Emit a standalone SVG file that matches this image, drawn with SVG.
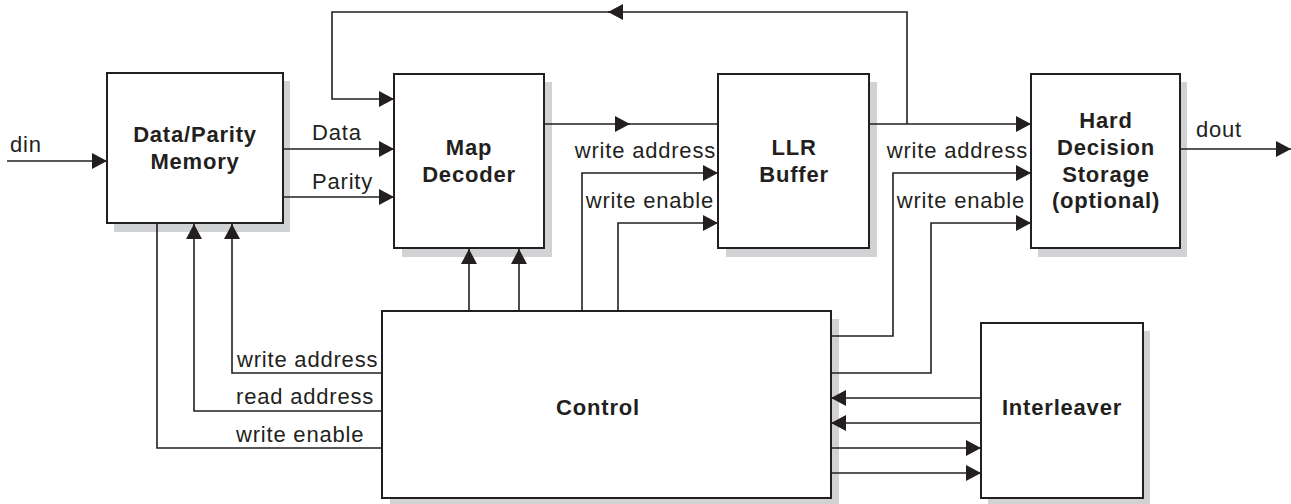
<svg xmlns="http://www.w3.org/2000/svg" width="1291" height="504" viewBox="0 0 1291 504">
<style>
.box{fill:#fff;stroke:#231f20;stroke-width:2}
.sh{fill:#d1d2d4}
.c{fill:none;stroke:#231f20;stroke-width:1.6}
text{font-family:"Liberation Sans",Arial,sans-serif;font-size:22px;fill:#231f20;letter-spacing:0.8px}
.b{font-weight:bold;text-anchor:middle}
.e{text-anchor:end}
</style>
<defs>
<marker id="a" markerWidth="15" markerHeight="16" refX="15" refY="8" orient="auto" markerUnits="userSpaceOnUse"><path d="M0,0 L15,8 L0,16 z" fill="#231f20"/></marker>
</defs>
<rect width="1291" height="504" fill="#fff"/>
<g id="dpm">
<rect class="sh" x="114" y="81" width="176" height="151"/>
<rect class="box" x="107" y="73" width="176" height="150"/>
<text class="b" x="195" y="142">Data/Parity</text>
<text class="b" x="195" y="169">Memory</text>
</g>
<g id="map">
<rect class="sh" x="402" y="82" width="150" height="175"/>
<rect class="box" x="394" y="74" width="150" height="174"/>
<text class="b" x="469" y="155">Map</text>
<text class="b" x="469" y="182">Decoder</text>
</g>
<g id="llr">
<rect class="sh" x="726" y="82" width="151" height="175"/>
<rect class="box" x="718" y="74" width="151" height="174"/>
<text class="b" x="794" y="155">LLR</text>
<text class="b" x="794" y="182">Buffer</text>
</g>
<g id="hds">
<rect class="sh" x="1038" y="82" width="149" height="175"/>
<rect class="box" x="1031" y="74" width="149" height="174"/>
<text class="b" x="1106" y="128">Hard</text>
<text class="b" x="1106" y="155">Decision</text>
<text class="b" x="1106" y="182">Storage</text>
<text class="b" x="1106" y="208">(optional)</text>
</g>
<g id="ctrl">
<rect class="sh" x="390" y="319" width="449" height="190"/>
<rect class="box" x="382" y="311" width="449" height="187"/>
<text class="b" x="598" y="415">Control</text>
</g>
<g id="intl">
<rect class="sh" x="988" y="331" width="162" height="175"/>
<rect class="box" x="981" y="323" width="162" height="175"/>
<text class="b" x="1062" y="415">Interleaver</text>
</g>
<g id="connectors">
<path class="c" d="M7,161 H107" marker-end="url(#a)"/>
<path class="c" d="M283,149 H394" marker-end="url(#a)"/>
<path class="c" d="M283,197 H394" marker-end="url(#a)"/>
<path class="c" d="M907,124 V12 H608" marker-end="url(#a)"/>
<path class="c" d="M612,12 H332 V99 H394" marker-end="url(#a)"/>
<path class="c" d="M544,124 H630" marker-end="url(#a)"/>
<path class="c" d="M626,124 H718"/>
<path class="c" d="M869,124 H1031" marker-end="url(#a)"/>
<path class="c" d="M582,311 V173 H718" marker-end="url(#a)"/>
<path class="c" d="M618,311 V223 H718" marker-end="url(#a)"/>
<path class="c" d="M831,336 H893 V173 H1031" marker-end="url(#a)"/>
<path class="c" d="M831,373 H931 V223 H1031" marker-end="url(#a)"/>
<path class="c" d="M1180,149 H1291" marker-end="url(#a)"/>
<path class="c" d="M469,311 V249" marker-end="url(#a)"/>
<path class="c" d="M519,311 V249" marker-end="url(#a)"/>
<path class="c" d="M382,373 H232 V224" marker-end="url(#a)"/>
<path class="c" d="M382,411 H194 V224" marker-end="url(#a)"/>
<path class="c" d="M382,448 H157 V223"/>
<path class="c" d="M981,398 H831" marker-end="url(#a)"/>
<path class="c" d="M981,423 H831" marker-end="url(#a)"/>
<path class="c" d="M831,448 H981" marker-end="url(#a)"/>
<path class="c" d="M831,473 H981" marker-end="url(#a)"/>
</g>
<g id="labels">
<text x="10" y="152">din</text>
<text x="312" y="140">Data</text>
<text x="312" y="189">Parity</text>
<text class="e" x="716" y="158">write address</text>
<text class="e" x="714" y="208">write enable</text>
<text class="e" x="1028" y="158">write address</text>
<text class="e" x="1025" y="208">write enable</text>
<text x="1196" y="137">dout</text>
<text x="237" y="367">write address</text>
<text x="236" y="404">read address</text>
<text x="236" y="442">write enable</text>
</g>
</svg>
